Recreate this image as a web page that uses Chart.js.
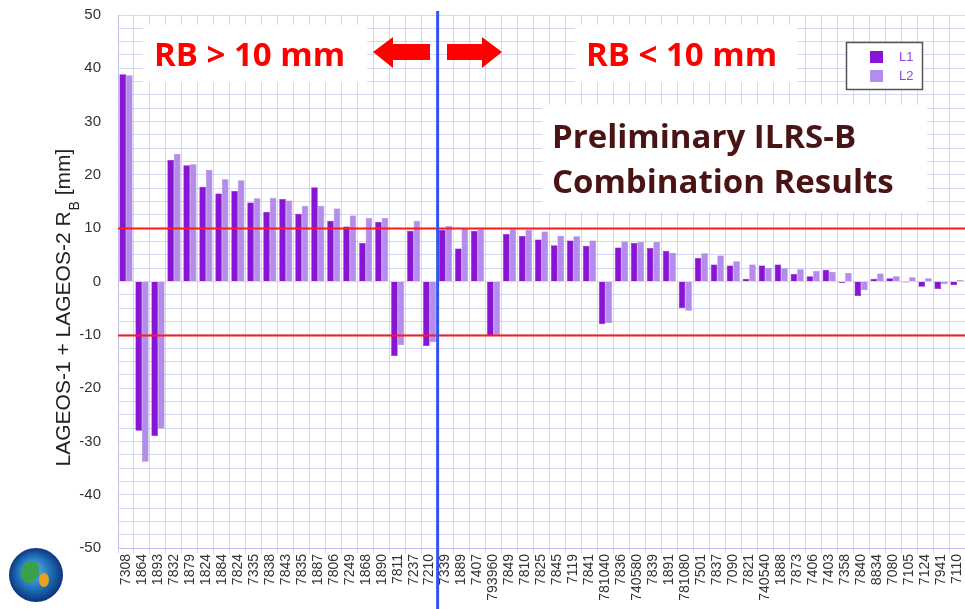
<!DOCTYPE html>
<html>
<head>
<meta charset="utf-8">
<script src="https://cdn.jsdelivr.net/npm/chart.js@4/dist/chart.umd.min.js"></script>
<style>
  html, body { margin: 0; padding: 0; background: #fff; }
  #wrap { width: 965px; height: 609px; position: relative; }
</style>
</head>
<body>
<div id="wrap"><canvas id="rbChart" width="965" height="609"></canvas></div>
<script>
// stations, left group (RB > 10 mm) then right group (RB < 10 mm)
const stations = ['7308','1864','1893','7832','1879','1824','1884','7824','7335','7838',
  '7843','7835','1887','7806','7249','1868','1890','7811','7237','7210',
  '7339','1889','7407','793960','7849','7810','7825','7845','7119','7841',
  '781040','7836','740580','7839','1891','781080','7501','7837','7090','7821',
  '740540','1888','7873','7406','7403','7358','7840','8834','7080','7105',
  '7124','7941','7110'];

const l1 = [38.9,-28.0,-29.0,22.8,21.8,17.8,16.5,17.0,14.8,13.1,
  15.5,12.7,17.7,11.4,10.3,7.2,11.2,-14.0,9.5,-12.1,
  9.7,6.2,9.5,-10.2,8.9,8.6,7.9,6.8,7.7,6.7,
  -8.0,6.4,7.2,6.3,5.7,-5.0,4.4,3.2,3.0,0.5,
  3.0,3.2,1.4,1.0,2.2,-0.3,-2.7,0.5,0.6,-0.2,
  -1.0,-1.4,-0.7];

const l2 = [38.7,-33.8,-27.6,23.9,22.0,20.9,19.2,19.0,15.6,15.7,
  15.2,14.2,14.2,13.7,12.4,11.9,11.9,-11.9,11.4,-11.4,
  10.4,10.0,9.8,-10.0,9.8,9.7,9.4,8.6,8.5,7.7,
  -7.8,7.5,7.4,7.4,5.4,-5.5,5.3,4.9,3.8,3.2,
  2.6,2.5,2.3,2.0,1.8,1.6,-1.6,1.5,1.0,0.8,
  0.6,-0.5,0.3];

const limits = [10, -10];
const splitAfter = 20; // first 20 stations are RB > 10 mm

const L1_COLOR = '#8a14d6';
const L2_COLOR = '#b48ceb';
const GRID = 'rgba(150,150,235,0.38)';

const decorations = {
  id: 'decorations',
  beforeDatasetsDraw(chart) {
    const ctx = chart.ctx;
    ctx.save();
    ctx.fillStyle = '#fff';
    ctx.fillRect(143, 25, 224, 57);
    ctx.fillRect(575, 25, 222, 57);
    ctx.fillRect(542, 105, 385, 107);
    ctx.restore();
  },
  afterDatasetsDraw(chart) {
    const ctx = chart.ctx;
    const area = chart.chartArea;
    const y = chart.scales.y;
    const x = chart.scales.x;
    ctx.save();

    // +-10 mm limit lines
    ctx.strokeStyle = '#ff1a1a';
    ctx.lineWidth = 2;
    limits.forEach(v => {
      const py = Math.round(y.getPixelForValue(v)) + 0.5;
      ctx.beginPath();
      ctx.moveTo(area.left, py);
      ctx.lineTo(area.right, py);
      ctx.stroke();
    });

    // separator between the two groups
    const sx = (x.getPixelForValue(splitAfter - 1) + x.getPixelForValue(splitAfter)) / 2;
    ctx.strokeStyle = '#3355ee';
    ctx.lineWidth = 3;
    ctx.beginPath();
    ctx.moveTo(sx, 11);
    ctx.lineTo(sx, 609);
    ctx.stroke();

    // arrows
    ctx.fillStyle = '#ff0000';
    ctx.beginPath();
    ctx.moveTo(373, 52); ctx.lineTo(393, 37); ctx.lineTo(393, 44); ctx.lineTo(430, 44);
    ctx.lineTo(430, 60); ctx.lineTo(393, 60); ctx.lineTo(393, 68); ctx.closePath();
    ctx.fill();
    ctx.beginPath();
    ctx.moveTo(502, 52); ctx.lineTo(482, 37); ctx.lineTo(482, 44); ctx.lineTo(447, 44);
    ctx.lineTo(447, 60); ctx.lineTo(482, 60); ctx.lineTo(482, 68); ctx.closePath();
    ctx.fill();

    // headline texts
    ctx.font = 'bold 33px "Open Sans"';
    ctx.textBaseline = 'alphabetic';
    ctx.textAlign = 'left';
    ctx.fillText('RB > 10 mm', 154, 66);
    ctx.fillText('RB < 10 mm', 586, 66);

    ctx.fillStyle = '#4a1414';
    ctx.font = 'bold 33px "Open Sans"';
    ctx.fillText('Preliminary ILRS-B', 552, 148);
    ctx.fillText('Combination Results', 552, 193);

    // legend
    ctx.fillStyle = '#fff';
    ctx.fillRect(846, 42, 77, 48);
    ctx.strokeStyle = '#555';
    ctx.lineWidth = 1.5;
    ctx.strokeRect(846.5, 42.5, 76, 47);
    ctx.fillStyle = L1_COLOR;
    ctx.fillRect(870, 51, 13, 12);
    ctx.fillStyle = L2_COLOR;
    ctx.fillRect(870, 70, 13, 12);
    ctx.fillStyle = '#8a4ae0';
    ctx.font = '13px "Liberation Sans"';
    ctx.textBaseline = 'middle';
    ctx.fillText('L1', 899, 57);
    ctx.fillText('L2', 899, 76);

    // y axis title with subscript
    ctx.save();
    ctx.translate(70, 308);
    ctx.rotate(-Math.PI / 2);
    ctx.fillStyle = '#222';
    ctx.textBaseline = 'alphabetic';
    ctx.textAlign = 'left';
    const main = 'LAGEOS-1 + LAGEOS-2 R';
    const tail = ' [mm]';
    ctx.font = '21px "Liberation Sans"';
    const w1 = ctx.measureText(main).width;
    ctx.font = '14px "Liberation Sans"';
    const wb = ctx.measureText('B').width;
    ctx.font = '21px "Liberation Sans"';
    const w2 = ctx.measureText(tail).width;
    const start = -(w1 + wb + w2) / 2;
    ctx.fillText(main, start, 0);
    ctx.font = '14px "Liberation Sans"';
    ctx.fillText('B', start + w1 + 1, 9);
    ctx.font = '21px "Liberation Sans"';
    ctx.fillText(tail, start + w1 + wb + 1, 0);
    ctx.restore();

    // logo
    const g = ctx.createRadialGradient(32, 570, 3, 36, 575, 28);
    g.addColorStop(0, '#5fb0e0');
    g.addColorStop(0.55, '#1d6fb8');
    g.addColorStop(1, '#0b2f78');
    ctx.fillStyle = g;
    ctx.beginPath();
    ctx.arc(36, 575, 27, 0, Math.PI * 2);
    ctx.fill();
    ctx.fillStyle = '#3aa04a';
    ctx.beginPath();
    ctx.ellipse(30, 572, 9, 11, 0.4, 0, Math.PI * 2);
    ctx.fill();
    ctx.fillStyle = '#e8a020';
    ctx.beginPath();
    ctx.ellipse(44, 580, 5, 7, 0, 0, Math.PI * 2);
    ctx.fill();

    ctx.restore();
  }
};

new Chart(document.getElementById('rbChart'), {
  type: 'bar',
  data: {
    labels: stations,
    datasets: [
      { label: 'L1', data: l1, backgroundColor: L1_COLOR, borderColor: '#6a0aa8', borderWidth: 0.5 },
      { label: 'L2', data: l2, backgroundColor: L2_COLOR, borderColor: '#9070c0', borderWidth: 0.5 }
    ]
  },
  options: {
    responsive: false,
    animation: false,
    layout: { padding: { top: 15, right: 0, left: 0, bottom: 0 } },
    datasets: { bar: { categoryPercentage: 0.82, barPercentage: 1.0 } },
    plugins: { legend: { display: false }, tooltip: { enabled: false } },
    scales: {
      x: {
        grid: { color: GRID, offset: true, tickLength: 6 },
        border: { color: GRID },
        ticks: {
          autoSkip: false, minRotation: 90, maxRotation: 90,
          color: '#333', font: { family: 'Liberation Sans', size: 14 }, padding: 0
        },
        afterFit(s) { s.height = 61; s.paddingLeft = 0; s.paddingRight = 0; }
      },
      y: {
        min: -50, max: 50,
        grid: { color: GRID, tickLength: 0 },
        border: { color: GRID },
        ticks: {
          stepSize: 2.5, autoSkip: false,
          color: '#333', font: { family: 'Liberation Sans', size: 15 }, padding: 17,
          callback: v => (v % 10 === 0 ? v : '')
        },
        afterFit(s) { s.width = 118; s.paddingTop = 0; s.paddingBottom = 0; }
      }
    }
  },
  plugins: [decorations]
});
</script>
</body>
</html>
